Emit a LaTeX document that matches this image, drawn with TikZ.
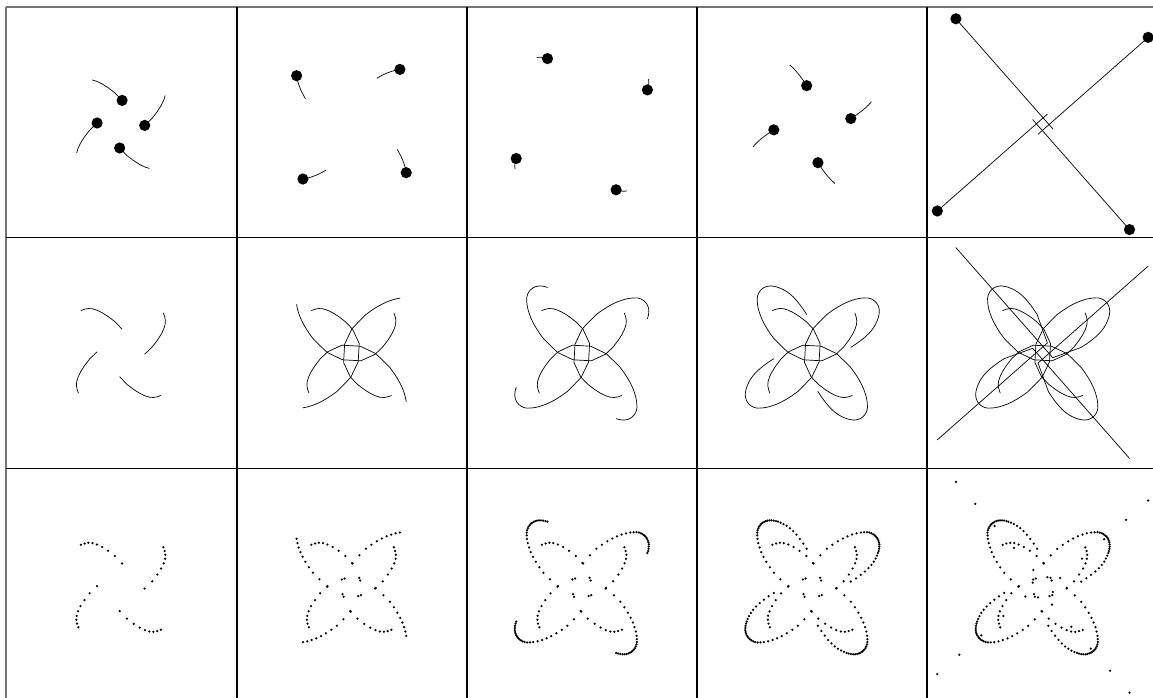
\documentclass[tikz,border=0pt]{standalone}
\begin{document}
\begin{tikzpicture}[x=1pt,y=-1pt,
  gridline/.style={line width=1.1pt,black},
  outerline/.style={line width=1.1pt,black!55},
  trajline/.style={line width=0.7pt,black,line join=round,line cap=round},
  bodydot/.style={fill=black},
  sampledot/.style={fill=black}]
\useasboundingbox (0,0) rectangle (1153,698);
\def\PX{{-40,-36.3,-32.5,-28.5,-24,-18.8,-12.8,-6,1.2,7.8,6.8,-0.6,-8,-14.5,-20,-25.5,-30.5,-35.2,-39.8,-44.2,-48.5,-51.9,-54.71,-57.09,-59.08,-60.77,-62.23,-63.47,-64.54,-65.44,-66.18,-66.7,-66.98,-66.96,-66.72,-66.23,-65.6,-64.6,-63.25,-61.45,-59.1,-56.16,-52.58,-48.38,-43.69,-38.49,-10.06,9.31,28.68,48.06,67.43,86.8}}
\def\PY{{-42.5,-43.8,-44.5,-44.2,-42.8,-40.3,-36.5,-31.3,-23.8,-9.5,8.8,24.3,32,38.5,42.5,46,48.8,51,52.7,54,54.8,55.07,55.15,54.72,54.02,53.12,52.07,50.9,49.6,48.17,46.54,44.74,42.79,40.72,38.56,36.29,34.3,31.69,28.79,25.67,22.43,19.16,15.82,12.42,9.01,5.63,-4.67,17.34,39.35,61.37,83.38,105.4}}
\def\ColX{{120.9,351.4,581.8,812.3,1042.7}}
\def\Nidx{{8,20,36,45,51}}
% grid
\draw[outerline] (6,7) -- (6,698);
\draw[outerline] (6,7) -- (1153,7);
\foreach \x in {237,467,697,927} \draw[gridline] (\x,7) -- (\x,698);
\foreach \y in {237.5,468.5} \draw[gridline] (6,\y) -- (1153,\y);
\foreach \c in {0,...,4} {
  \pgfmathsetmacro\cx{\ColX[\c]}
  \pgfmathtruncatemacro\n{\Nidx[\c]}
  \pgfmathtruncatemacro\s{max(0,\n-5)}
  \foreach \k in {0,90,180,270} {
    \begin{scope}[shift={(\cx,124.2)},rotate=\k]
      \draw[trajline] ({\PX[\s]},{\PY[\s]}) \foreach \i in {\s,...,\n} { -- ({\PX[\i]},{\PY[\i]}) };
      \fill[bodydot] ({\PX[\n]},{\PY[\n]}) circle (5.6);
    \end{scope}
    \begin{scope}[shift={(\cx,353)},rotate=\k]
      \draw[trajline] ({\PX[0]},{\PY[0]}) \foreach \i in {1,...,\n} { -- ({\PX[\i]},{\PY[\i]}) };
    \end{scope}
    \begin{scope}[shift={(\cx,587.3)},rotate=\k]
      \foreach \i in {0,...,\n} { \fill[sampledot] ({\PX[\i]},{\PY[\i]}) circle (1.25); }
    \end{scope}
  }
}
\end{tikzpicture}
\end{document}
